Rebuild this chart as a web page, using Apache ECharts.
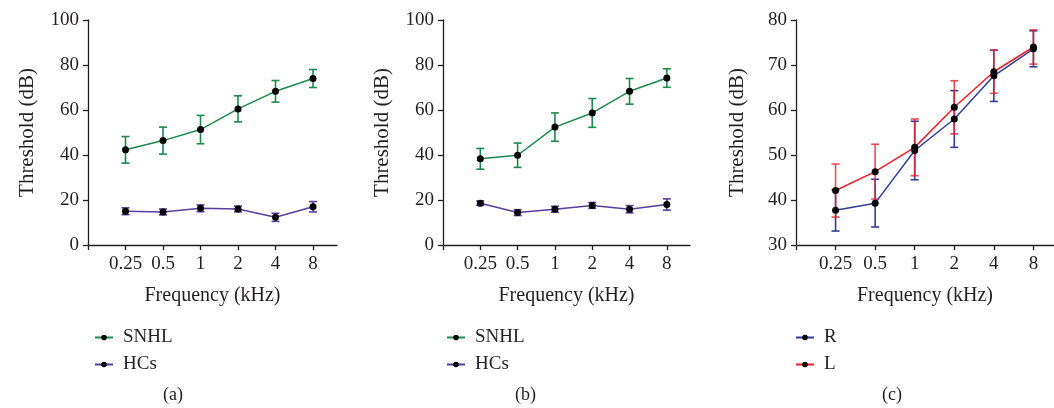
<!DOCTYPE html>
<html>
<head>
<meta charset="utf-8">
<script src="https://cdn.jsdelivr.net/npm/echarts@6/dist/echarts.min.js"></script>
<style>html,body{margin:0;padding:0;background:#fff}#c{width:1054px;height:408px}</style>
</head>
<body>
<div id="c"></div>
<script>
// ---- data ----
var freqLabels = ['0.25', '0.5', '1', '2', '4', '8'];

var snhlA    = [42.3, 46.4, 51.3, 60.5, 68.3, 74.0];
var snhlAErr = [5.9, 6.0, 6.3, 5.8, 4.8, 4.0];
var hcsA     = [15.0, 14.7, 16.3, 16.0, 12.3, 17.0];
var hcsAErr  = [1.5, 1.3, 1.5, 1.3, 1.8, 2.3];

var snhlB    = [38.3, 39.9, 52.4, 58.7, 68.3, 74.2];
var snhlBErr = [4.6, 5.4, 6.3, 6.4, 5.7, 4.1];
var hcsB     = [18.6, 14.4, 15.9, 17.6, 15.9, 18.0];
var hcsBErr  = [1.0, 1.3, 1.3, 1.3, 1.6, 2.5];

var rC    = [37.7, 39.3, 51.0, 58.0, 67.6, 73.6];
var rCErr = [4.6, 5.3, 6.5, 6.3, 5.7, 4.0];
var lC    = [42.1, 46.3, 51.7, 60.6, 68.5, 74.0];
var lCErr = [5.9, 6.1, 6.3, 5.9, 4.8, 3.8];

var yTicksAB = [0, 20, 40, 60, 80, 100];
var yTicksC  = [30, 40, 50, 60, 70, 80];

// ---- styles ----
var FONT = 'Liberation Serif';
var TXT = '#231f20';
var GREEN = '#1b8a4c', PURPLE = '#5a3d9e', BLUE = '#2e3d9c', RED = '#ec1f2b';

function pts(vals) { return vals.map(function (v, i) { return [i + 1, v]; }); }
function errPts(vals, errs) { return vals.map(function (v, i) { return [i + 1, v - errs[i], v + errs[i]]; }); }

function errSeries(idx, vals, errs, color, opacity) {
  return {
    type: 'custom', xAxisIndex: idx, yAxisIndex: idx, z: 2,
    data: errPts(vals, errs),
    renderItem: function (params, api) {
      var lo = api.coord([api.value(0), api.value(1)]);
      var hi = api.coord([api.value(0), api.value(2)]);
      var w = 4;
      var st = { stroke: color, lineWidth: 1.6, opacity: opacity };
      return { type: 'group', children: [
        { type: 'line', shape: { x1: lo[0], y1: lo[1], x2: hi[0], y2: hi[1] }, style: st },
        { type: 'line', shape: { x1: lo[0] - w, y1: lo[1], x2: lo[0] + w, y2: lo[1] }, style: st },
        { type: 'line', shape: { x1: hi[0] - w, y1: hi[1], x2: hi[0] + w, y2: hi[1] }, style: st }
      ]};
    },
    silent: true
  };
}
function lineSeries(idx, name, vals, color) {
  return {
    type: 'line', name: name, xAxisIndex: idx, yAxisIndex: idx, z: 3,
    data: pts(vals), symbol: 'circle', symbolSize: 7,
    itemStyle: { color: '#000' }, lineStyle: { color: color, width: 1.5 },
    animation: false
  };
}

var grids = [
  { left: 88, top: 20, width: 249, height: 225, max: 6.64 },
  { left: 443, top: 20, width: 247, height: 225, max: 6.62 },
  { left: 796, top: 20, width: 262, height: 225, max: 6.52 }
];
var yCfg = [
  { min: 0, max: 100, interval: 20 },
  { min: 0, max: 100, interval: 20 },
  { min: 30, max: 80, interval: 10 }
];

var axisLineStyle = { color: TXT, width: 1.3 };
var xAxes = grids.map(function (g, i) {
  return {
    type: 'value', gridIndex: i, min: 0, max: g.max,
    name: 'Frequency (kHz)', nameLocation: 'middle', nameGap: 41,
    nameTextStyle: { fontFamily: FONT, fontSize: 20, color: TXT },
    axisLine: { show: true, lineStyle: axisLineStyle },
    axisTick: { show: true, length: 5, lineStyle: axisLineStyle, customValues: [0, 1, 2, 3, 4, 5, 6] },
    axisLabel: { fontFamily: FONT, fontSize: 19, color: TXT, margin: 10,
      customValues: [1, 2, 3, 4, 5, 6],
      formatter: function (v) { return freqLabels[Math.round(v) - 1] || ''; } },
    splitLine: { show: false }
  };
});
var yAxes = grids.map(function (g, i) {
  var yc = yCfg[i];
  var ticks = i === 2 ? yTicksC : yTicksAB;
  return {
    type: 'value', gridIndex: i, min: yc.min, max: yc.max, interval: yc.interval,
    name: 'Threshold (dB)', nameLocation: 'middle', nameGap: i === 2 ? 48 : 50,
    nameTextStyle: { fontFamily: FONT, fontSize: 21, color: TXT },
    axisLine: { show: true, lineStyle: axisLineStyle },
    axisTick: { show: true, length: 5, lineStyle: axisLineStyle },
    axisLabel: { fontFamily: FONT, fontSize: 19, color: TXT, margin: 9,
      formatter: function (v) { return ticks.indexOf(v) >= 0 ? String(v) : ''; } },
    splitLine: { show: false }
  };
});

var legendBase = {
  orient: 'vertical', itemWidth: 18, itemHeight: 7, itemGap: 8,
  textStyle: { fontFamily: FONT, fontSize: 19, color: TXT, padding: [0, 0, 0, 5] },
  inactiveColor: '#ccc', selectedMode: false
};
function legend(left, names) {
  return Object.assign({}, legendBase, { left: left, top: 323, data: names });
}

var option = {
  animation: false,
  grid: grids.map(function (g) { return { left: g.left, top: g.top, width: g.width, height: g.height }; }),
  xAxis: xAxes,
  yAxis: yAxes,
  legend: [legend(89, ['SNHL', 'HCs']), legend(441, ['SNHL ', 'HCs ']), legend(790, ['R', 'L'])],
  series: [
    errSeries(0, snhlA, snhlAErr, GREEN, 1),
    errSeries(0, hcsA, hcsAErr, PURPLE, 1),
    lineSeries(0, 'SNHL', snhlA, GREEN),
    lineSeries(0, 'HCs', hcsA, PURPLE),
    errSeries(1, snhlB, snhlBErr, GREEN, 1),
    errSeries(1, hcsB, hcsBErr, PURPLE, 1),
    lineSeries(1, 'SNHL ', snhlB, GREEN),
    lineSeries(1, 'HCs ', hcsB, PURPLE),
    errSeries(2, rC, rCErr, BLUE, 1),
    errSeries(2, lC, lCErr, RED, 0.8),
    lineSeries(2, 'R', rC, BLUE),
    lineSeries(2, 'L', lC, RED)
  ],
  graphic: [
    { type: 'text', left: 163, top: 386, style: { text: '(a)', font: '18px "Liberation Serif"', fill: TXT } },
    { type: 'text', left: 515, top: 386, style: { text: '(b)', font: '18px "Liberation Serif"', fill: TXT } },
    { type: 'text', left: 882, top: 386, style: { text: '(c)', font: '18px "Liberation Serif"', fill: TXT } }
  ]
};
var chart = echarts.init(document.getElementById('c'));
chart.setOption(option);
</script>
</body>
</html>
